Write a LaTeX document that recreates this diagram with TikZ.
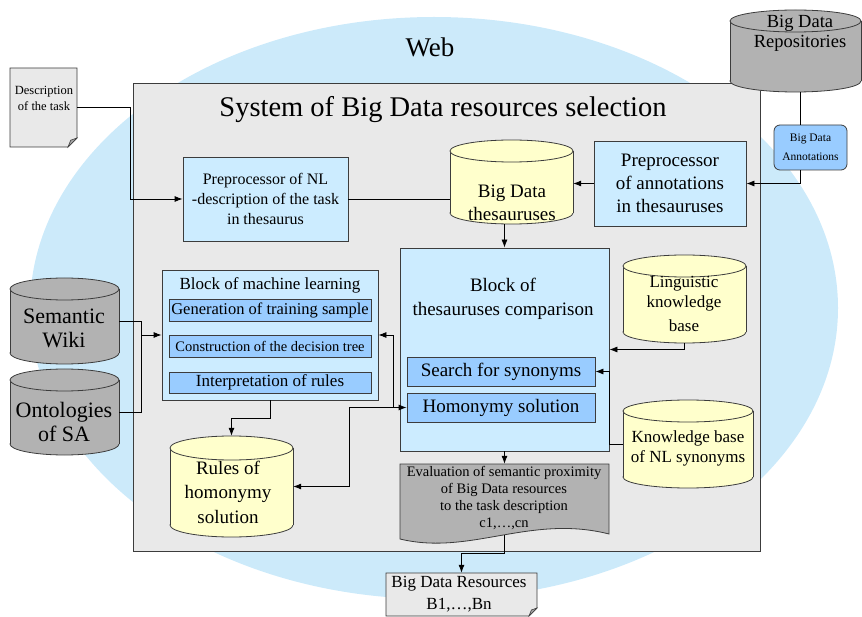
\documentclass[tikz,border=0pt]{standalone}
\usepackage{fontspec}
\setmainfont{Liberation Serif}
\usetikzlibrary{arrows.meta,calc}

\definecolor{webblue}{RGB}{204,234,250}
\definecolor{sysgray}{RGB}{233,233,233}
\definecolor{paleblue}{RGB}{204,236,255}
\definecolor{midblue}{RGB}{153,204,255}
\definecolor{dbyellow}{RGB}{255,255,204}
\definecolor{dbgray}{RGB}{178,178,178}
\definecolor{edge}{RGB}{60,60,60}

\newcommand\fsz[2]{\fontsize{#1}{#2}\selectfont}

% database cylinder: name, x1, y1, x2, y2, end radius, fill
\newcommand\dbcyl[7]{%
  \pgfmathsetmacro\cxx{(#2+#4)/2}%
  \pgfmathsetmacro\rxx{(#4-#2)/2}%
  \pgfmathsetmacro\ytop{#3+#6}%
  \pgfmathsetmacro\ybot{#5-#6}%
  \filldraw[fill=#7,draw=edge,line width=0.8pt] (\cxx,\ybot) ellipse [x radius=\rxx pt, y radius=#6pt];
  \fill[#7] (#2,\ytop) rectangle (#4,\ybot);
  \draw[edge,line width=0.8pt] (#2,\ytop) -- (#2,\ybot) (#4,\ytop) -- (#4,\ybot);
  \filldraw[fill=#7,draw=edge,line width=0.8pt] (\cxx,\ytop) ellipse [x radius=\rxx pt, y radius=#6pt];
  \node[inner sep=0pt,minimum width={(#4-#2)*1pt},minimum height={(#5-#3)*1pt}] (#1) at (\cxx,{(#3+#5)/2}) {};
}

% sheet with a folded lower right corner: name, x1, y1, x2, y2, fold, fill
\newcommand\docfold[7]{%
  \filldraw[fill=#7,draw=edge,line width=0.8pt] (#2,#3) -- (#4,#3) -- (#4,{#5-#6}) -- ({#4-#6},#5) -- (#2,#5) -- cycle;
  \filldraw[fill=gray!70,draw=edge,line width=0.6pt] (#4,{#5-#6}) -- ({#4-0.7*#6},{#5-0.75*#6}) -- ({#4-#6},#5) -- cycle;
  \node[inner sep=0pt,minimum width={(#4-#2)*1pt},minimum height={(#5-#3)*1pt}] (#1) at ({(#2+#4)/2},{(#3+#5)/2}) {};
}

\begin{document}
\begin{tikzpicture}[x=1pt,y=-1pt,
  box/.style={draw=edge,line width=0.8pt,rectangle,inner sep=0pt,align=center},
  lbl/.style={inner sep=0pt,align=center},
  conn/.style={draw=black,line width=0.8pt},
  arrw/.style={draw=black,line width=0.8pt,-{Latex[length=8pt,width=6pt]}}]

\useasboundingbox (0,0) rectangle (862,617);

% the web
\fill[webblue] (434,308) ellipse [x radius=404pt, y radius=291pt];
\node[lbl,font=\fsz{27}{32}] (web) at (430,47) {Web};

% the system frame
\node[box,fill=sysgray,minimum width=627pt,minimum height=468pt] (sys) at (446.5,317) {};
\node[lbl,font=\fsz{28.5}{32}] (title) at (443,110) {System of Big Data resources selection};

% external sources
\docfold{desc}{10}{68}{77}{147}{9}{sysgray}
\node[lbl,font=\fsz{12.5}{16}] (desct) at (44,98) {Description\\of the task};

\dbcyl{repos}{730}{10}{861}{92}{11}{dbgray}
\node[lbl,font=\fsz{18.5}{20}] (repost) at (800,33) {Big Data\\Repositories};

\node[box,fill=midblue,rounded corners=6pt,minimum width=73pt,minimum height=45pt,font=\fsz{11.5}{19}] (annot) at (810.5,147.5) {Big Data\\Annotations};

\dbcyl{wiki}{10}{278}{119}{364}{11}{dbgray}
\node[lbl,font=\fsz{22}{24}] (wikit) at (64,328) {Semantic\\Wiki};
\dbcyl{onto}{10}{369}{119}{455}{11}{dbgray}
\node[lbl,font=\fsz{22}{24}] (ontot) at (64,422) {Ontologies\\of SA};

% preprocessors and thesauruses
\node[box,fill=paleblue,minimum width=165pt,minimum height=84pt,font=\fsz{16}{20}] (nlpre) at (265.5,199) {Preprocessor of NL\\-description of the task\\in thesaurus};
\dbcyl{thes}{450}{140}{573}{224}{11}{dbyellow}
\node[lbl,font=\fsz{19}{23}] (thest) at (512,203) {Big Data\\thesauruses};
\node[box,fill=paleblue,minimum width=152pt,minimum height=85pt,font=\fsz{19}{23}] (anpre) at (670,183.5) {Preprocessor\\of annotations\\in thesauruses};

% machine learning block
\node[box,fill=paleblue,minimum width=216pt,minimum height=130pt] (mlb) at (270,335) {};
\node[lbl,font=\fsz{17}{20}] (mlbt) at (270,285) {Block of machine learning};
\node[box,fill=midblue,minimum width=202pt,minimum height=22pt,font=\fsz{16.5}{20}] (gen) at (270,310) {Generation of training sample};
\node[box,fill=midblue,minimum width=202pt,minimum height=22pt,font=\fsz{14.5}{18}] (cons) at (270,346) {Construction of the decision tree};
\node[box,fill=midblue,minimum width=202pt,minimum height=21pt,font=\fsz{17}{20}] (interp) at (270,382.5) {Interpretation of rules};

% comparison block
\node[box,fill=paleblue,minimum width=209pt,minimum height=203pt] (comp) at (504.5,349.5) {};
\node[lbl,font=\fsz{19}{24}] (compt) at (503,299) {Block of\\thesauruses comparison};
\node[box,fill=midblue,minimum width=188pt,minimum height=29pt,font=\fsz{19}{22}] (syn) at (501,371.5) {Search for synonyms};
\node[box,fill=midblue,minimum width=188pt,minimum height=29pt,font=\fsz{19}{22}] (hom) at (501,407.5) {Homonymy solution};

% knowledge bases
\dbcyl{lkb}{623}{255}{746}{343}{11}{dbyellow}
\node[lbl,font=\fsz{17}{20}] (lkbt) at (684,304) {Linguistic\\knowledge\\[4pt]base};
\dbcyl{kbnl}{623}{400}{753}{488}{11}{dbyellow}
\node[lbl,font=\fsz{17}{20}] (kbnlt) at (688,448) {Knowledge base\\of NL synonyms};
\dbcyl{rules}{170}{436}{293}{537}{12}{dbyellow}
\node[lbl,font=\fsz{19}{24.5}] (rulest) at (228,492) {Rules of\\homonymy\\solution};

% evaluation sheet with a wavy lower edge
\filldraw[fill=dbgray,draw=edge,line width=0.8pt] (400,464) -- (609,464) -- (609,534)
  .. controls (530,514) and (470,556) .. (400,539) -- cycle;
\node[inner sep=0pt,minimum width=209pt,minimum height=71pt] (eval) at (504.5,499.5) {};
\node[lbl,font=\fsz{14.5}{17}] (evalt) at (504,498) {Evaluation of semantic proximity\\of Big Data resources\\to the task description\\c1,\dots,cn};

% result sheet
\docfold{bdr}{386}{573}{537}{616}{8}{sysgray}
\node[lbl,font=\fsz{17}{22}] (bdrt) at (459,594) {Big Data Resources\\B1,\dots,Bn};

% connectors
\coordinate (xdesc) at (130,0);
\coordinate (xann) at (800,0);
\coordinate (xsrc) at (141,0);
\coordinate (xh1) at (349,0);
\coordinate (xh2) at (393,0);

\draw[arrw] (desc.east) -- (desc.east -| xdesc) |- (nlpre.west);
\draw[conn] (nlpre.east) -- (nlpre.east -| thes.west);
\draw[arrw] (comp.north |- thes.south) -- (comp.north);
\draw[arrw] (anpre.west) -- (anpre.west -| thes.east);
\draw[conn] (repos.south -| xann) -- (annot.north -| xann);
\draw[arrw] (annot.south -| xann) |- (anpre.east);
\draw[arrw] (lkb.south) |- (comp.east);
\draw[arrw] (kbnl.west) -- (kbnl.west -| comp.east) |- (syn.east);
\draw[arrw] (comp.south) -- (eval.north);
\draw[arrw] (eval.south) -- ++(0,18) -| (bdr.north);
\draw[conn] (wiki.east) -- (wiki.east -| xsrc) -- (onto.east -| xsrc) -- (onto.east);
\draw[arrw] (mlb.west -| xsrc) -- (mlb.west);
\draw[arrw] (mlb.south) -- ++(0,18) -| (rules.north);
\draw[arrw] (hom.west -| xh1) -- (hom.west);
\draw[arrw] (hom.west -| xh1) |- (rules.east);
\draw[arrw] (hom.west -| xh2) |- (mlb.east);

\end{tikzpicture}
\end{document}
